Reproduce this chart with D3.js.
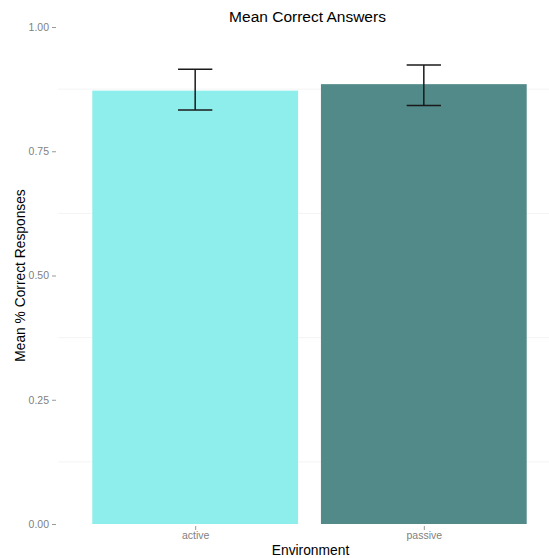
<!DOCTYPE html>
<html><head><meta charset="utf-8">
<script src="https://cdn.jsdelivr.net/npm/d3@7"></script>
<style>body{margin:0;background:#fff}svg{display:block}</style>
</head><body>
<script>
const categories = ["active", "passive"];
const means = [0.872, 0.885];
const lowers = [0.833, 0.842];
const uppers = [0.915, 0.9235];
const colors = ["#8eeeec", "#528a8a"];
const yTicks = [0, 0.25, 0.5, 0.75, 1.0];
const yMinor = [0.125, 0.375, 0.625, 0.875];

const W = 549, H = 558;
const pLeft = 58, pRight = 561, pTop = 27, pBottom = 524;
const svg = d3.select("body").append("svg").attr("width", W).attr("height", H)
  .style("font-family", "Liberation Sans, Arial, sans-serif");

const x = d3.scaleLinear().domain([0.4, 2.6]).range([pLeft, pRight]);
const y = d3.scaleLinear().domain([0, 1]).range([pBottom, pTop]);
const bw = 0.9;

// minor gridlines
svg.append("g").selectAll("line").data(yMinor).join("line")
  .attr("x1", pLeft).attr("x2", W).attr("y1", d => y(d)).attr("y2", d => y(d))
  .attr("stroke", "#f4f4f4").attr("stroke-width", 1);

// bars
svg.append("g").selectAll("rect").data(categories).join("rect")
  .attr("x", (d, i) => x(i + 1 - bw / 2))
  .attr("width", (d, i) => x(i + 1 + bw / 2) - x(i + 1 - bw / 2))
  .attr("y", (d, i) => y(means[i]))
  .attr("height", (d, i) => y(0) - y(means[i]))
  .attr("fill", (d, i) => colors[i]);

// error bars
const cap = 0.075;
const eb = svg.append("g").attr("stroke", "#1a1a1a").attr("stroke-width", 1.5).attr("fill", "none");
categories.forEach((c, i) => {
  const cx = x(i + 1);
  eb.append("line").attr("x1", cx).attr("x2", cx).attr("y1", y(lowers[i])).attr("y2", y(uppers[i]));
  eb.append("line").attr("x1", x(i + 1 - cap)).attr("x2", x(i + 1 + cap)).attr("y1", y(lowers[i])).attr("y2", y(lowers[i]));
  eb.append("line").attr("x1", x(i + 1 - cap)).attr("x2", x(i + 1 + cap)).attr("y1", y(uppers[i])).attr("y2", y(uppers[i]));
});

// y axis
const yAxis = d3.axisLeft(y).tickValues(yTicks).tickFormat(d3.format(".2f")).tickSize(4).tickPadding(3);
const ya = svg.append("g").attr("transform", `translate(${pLeft - 2},0)`).call(yAxis);
ya.select(".domain").remove();
ya.selectAll("line").attr("stroke", "#999");
ya.selectAll("text").attr("fill", "#7f7f7f").style("font-size", "10.5px");

// x axis
const xAxis = d3.axisBottom(x).tickValues([1, 2]).tickFormat((d) => categories[d - 1]).tickSize(4).tickPadding(2);
const xa = svg.append("g").attr("transform", `translate(0,${pBottom + 2})`).call(xAxis);
xa.select(".domain").remove();
xa.selectAll("line").attr("stroke", "#999");
xa.selectAll("text").attr("fill", "#7f7f7f").style("font-size", "10.5px");

// titles
svg.append("text").attr("x", (pLeft + pRight) / 2 - 2).attr("y", 22).attr("text-anchor", "middle")
  .style("font-size", "15.5px").attr("fill", "#000").text("Mean Correct Answers");
svg.append("text").attr("x", (pLeft + pRight) / 2 + 1).attr("y", 555).attr("text-anchor", "middle")
  .style("font-size", "13.8px").attr("fill", "#000").text("Environment");
svg.append("text").attr("transform", `translate(24.5,${(pTop + pBottom) / 2}) rotate(-90)`)
  .attr("text-anchor", "middle").style("font-size", "13.8px").attr("fill", "#000").text("Mean % Correct Responses");
</script>
</body></html>
